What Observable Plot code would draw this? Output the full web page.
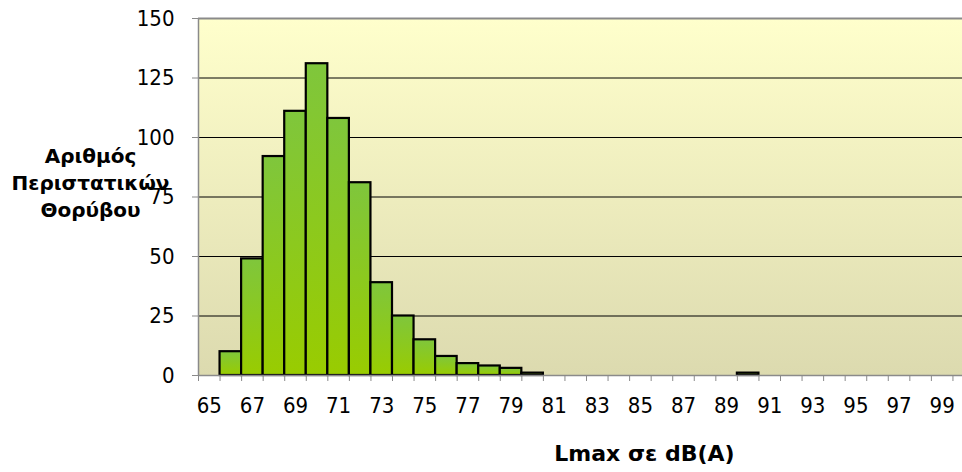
<!DOCTYPE html>
<html>
<head>
<meta charset="utf-8">
<script src="https://cdn.jsdelivr.net/npm/d3@7"></script>
<script src="https://cdn.jsdelivr.net/npm/@observablehq/plot@0.6"></script>
<style>
  html, body { margin: 0; padding: 0; background: #fff; overflow: hidden; }
  #chart { width: 962px; height: 472px; overflow: hidden; }
</style>
</head>
<body>
<div id="chart"></div>
<script>
// Noise level categories (dB(A)) and number of noise events
const levels = [65,66,67,68,69,70,71,72,73,74,75,76,77,78,79,80,81,82,83,84,85,86,87,88,89,90,91,92,93,94,95,96,97,98,99,100];
const counts = [0,10,49,92,111,131,108,81,39,25,15,8,5,4,3,1,0,0,0,0,0,0,0,0,0,1,0,0,0,0,0,0,0,0,0,0];
const xTickLabels = [65,67,69,71,73,75,77,79,81,83,85,87,89,91,93,95,97,99];
const yTicks = [0,25,50,75,100,125,150];
const yTitle = "Αριθμός\nΠεριστατικών\nΘορύβου";
const xTitle = "Lmax σε dB(A)";

const data = levels.map((l, i) => ({level: l, count: counts[i]})).filter(d => d.count > 0);
const bounds = levels.map(l => l - 0.5).concat([levels[levels.length - 1] + 0.5]);
const gridValues = yTicks.filter(v => v > 0 && v < 150);

const font = "'DejaVu Sans Condensed', 'DejaVu Sans', sans-serif";

const svg = Plot.plot({
  width: 974,
  height: 472,
  marginLeft: 198,
  marginRight: 0,
  marginTop: 18,
  marginBottom: 97,
  style: {fontFamily: font, fontSize: "22px", color: "#000", background: "transparent", maxWidth: "none", overflow: "visible"},
  x: {type: "linear", domain: [bounds[0], bounds[bounds.length - 1]]},
  y: {domain: [0, 150]},
  marks: [
    Plot.frame({fill: "url(#bgGrad)", stroke: null}),
    Plot.ruleY(gridValues, {stroke: "#000", strokeWidth: 1}),
    Plot.ruleY([150], {stroke: "#8a8a8a", strokeWidth: 2}),
    Plot.rectY(data, {x1: d => d.level - 0.5, x2: d => d.level + 0.5, y1: 0, y2: "count", fill: "url(#barGrad)", stroke: "#000", strokeWidth: 2.2}),
    Plot.ruleX([bounds[0]], {stroke: "#8a8a8a", strokeWidth: 1.5}),
    Plot.ruleY([0], {stroke: "#8a8a8a", strokeWidth: 1.5}),
    Plot.text([yTitle], {frameAnchor: "left", dx: -108, dy: -16, fontWeight: "bold", fontSize: 20, lineHeight: 1.35, textAnchor: "middle", fontFamily: "'DejaVu Sans', sans-serif"}),
    Plot.text([xTitle], {frameAnchor: "bottom", dx: 58, dy: 85, fontWeight: "bold", fontSize: 22, textAnchor: "middle", fontFamily: "'DejaVu Sans', sans-serif"}),
    Plot.axisY({ticks: yTicks, tickSize: 6, tickPadding: 18, stroke: "#8a8a8a", fill: "#000", fontSize: 22, tickFormat: d => String(d), label: null}),
    Plot.axisX({ticks: bounds, tickSize: 6, text: null, stroke: "#8a8a8a", label: null}),
    Plot.axisX({ticks: xTickLabels, tickSize: 0, tickPadding: 22, fill: "#000", fontSize: 22, tickFormat: d => String(d), label: null})
  ]
});

const ns = "http://www.w3.org/2000/svg";
const defs = document.createElementNS(ns, "defs");
function grad(id, stops) {
  const g = document.createElementNS(ns, "linearGradient");
  g.setAttribute("id", id);
  g.setAttribute("x1", "0"); g.setAttribute("y1", "0");
  g.setAttribute("x2", "0"); g.setAttribute("y2", "1");
  for (const [off, col] of stops) {
    const s = document.createElementNS(ns, "stop");
    s.setAttribute("offset", off);
    s.setAttribute("stop-color", col);
    g.appendChild(s);
  }
  defs.appendChild(g);
}
grad("bgGrad", [[0, "#FFFFCC"], [1, "#DCDAAF"]]);
grad("barGrad", [[0, "#7FC63C"], [1, "#99CC00"]]);
svg.insertBefore(defs, svg.firstChild);

document.getElementById("chart").appendChild(svg);
</script>
</body>
</html>
